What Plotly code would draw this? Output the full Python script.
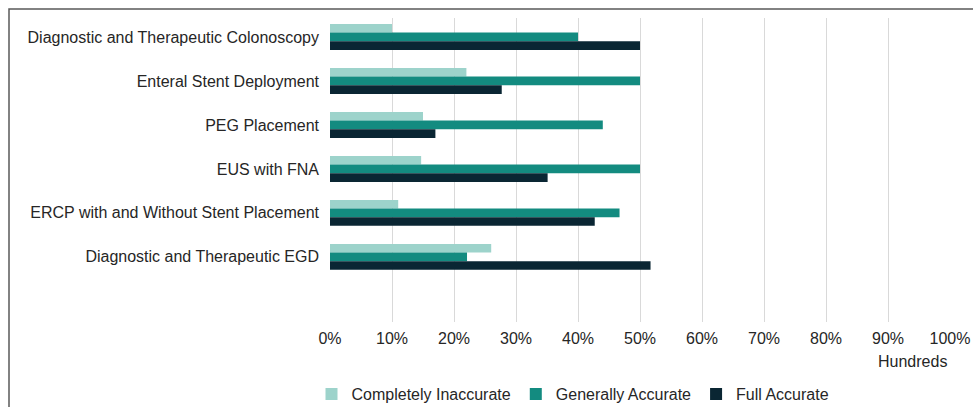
import plotly.graph_objects as go

categories = [
    "Diagnostic and Therapeutic Colonoscopy",
    "Enteral Stent Deployment",
    "PEG Placement",
    "EUS with FNA",
    "ERCP with and Without Stent Placement",
    "Diagnostic and Therapeutic EGD",
]
completely_inaccurate = [0.10, 0.22, 0.15, 0.147, 0.11, 0.26]
generally_accurate = [0.40, 0.50, 0.44, 0.50, 0.467, 0.221]
full_accurate = [0.50, 0.277, 0.17, 0.351, 0.427, 0.517]
tick_vals = [0, 0.1, 0.2, 0.3, 0.4, 0.5, 0.6, 0.7, 0.8, 0.9, 1.0]
tick_text = ["0%", "10%", "20%", "30%", "40%", "50%", "60%", "70%", "80%", "90%", "100%"]

series = [
    ("Completely Inaccurate", completely_inaccurate, "#9dd3cb"),
    ("Generally Accurate", generally_accurate, "#138b80"),
    ("Full Accurate", full_accurate, "#0a2633"),
]

ypos = list(range(len(categories)))

fig = go.Figure()
for name, vals, color in series:
    fig.add_trace(go.Bar(
        y=ypos, x=vals, name=name, orientation="h",
        marker=dict(color=color, line=dict(width=0)),
    ))

W, H = 973, 407
L, R, T, B = 330, 23, 18, 85
pw, ph = W - L - R, H - T - B

def px_x(x):
    return (x - L) / pw

def px_y(y):
    return (H - B - y) / ph

FS = 16
fig.update_layout(
    width=W, height=H,
    margin=dict(l=L, r=R, t=T, b=B),
    paper_bgcolor="white", plot_bgcolor="white",
    barmode="group", bargap=0.41, bargroupgap=0,
    font=dict(family="Arial, Liberation Sans, sans-serif", size=FS, color="#262626"),
    xaxis=dict(
        range=[0, 1.0], tickvals=tick_vals, ticktext=tick_text,
        showgrid=True, gridcolor="#d9d9d9", gridwidth=1.3,
        zeroline=False, showline=False, ticks="",
        tickfont=dict(size=FS, color="#262626"), ticklabelstandoff=5,
        automargin=False,
    ),
    yaxis=dict(
        range=[6.48, -0.43], tickvals=ypos, ticktext=categories,
        showgrid=False, zeroline=False, showline=False, ticks="",
        tickfont=dict(size=FS, color="#262626"), ticklabelstandoff=10,
        automargin=False,
    ),
    legend=dict(
        orientation="h", xref="container", x=573 / W, xanchor="center",
        yref="container", y=(H - 394) / H, yanchor="middle",
        font=dict(size=FS, color="#262626"), itemwidth=30, traceorder="normal",
        itemsizing="constant", tracegroupgap=0,
    ),
    showlegend=True,
    annotations=[dict(
        text="Hundreds", x=px_x(912), y=px_y(361), xref="paper", yref="paper",
        showarrow=False, xanchor="center", yanchor="middle",
        font=dict(size=FS, color="#262626"),
    )],
    shapes=[dict(
        type="rect", xref="paper", yref="paper",
        x0=px_x(9), x1=px_x(990), y0=px_y(430), y1=px_y(9),
        line=dict(color="#595959", width=1.5), layer="below",
    )],
)

fig.write_html("out.html")
